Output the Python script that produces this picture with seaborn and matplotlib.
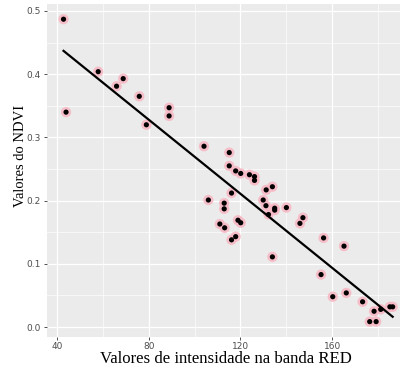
import numpy as np
import pandas as pd
import matplotlib
matplotlib.use("Agg")
from matplotlib import pyplot as plt
from matplotlib.ticker import MultipleLocator
import seaborn as sns

# valores
red = [42.9, 44.0, 58.0, 66.0, 68.9, 75.9, 79.0, 88.9, 88.9, 104.1,
       115.1, 115.1, 117.9, 120.1, 123.9, 126.1, 126.1, 133.9, 131.2, 116.1,
       106.0, 112.9, 112.9, 129.9, 131.1, 134.9, 134.9, 132.2, 140.0, 147.2,
       145.9, 118.9, 120.1, 111.0, 113.1, 117.9, 116.1, 133.9, 156.2, 165.1,
       155.1, 160.2, 166.1, 173.2, 178.2, 181.1, 185.1, 186.3, 176.3, 179.1]
ndvi = [0.487, 0.340, 0.404, 0.381, 0.393, 0.365, 0.320, 0.347, 0.334, 0.286,
        0.276, 0.255, 0.247, 0.243, 0.241, 0.238, 0.232, 0.222, 0.217, 0.212,
        0.201, 0.196, 0.187, 0.201, 0.192, 0.188, 0.185, 0.178, 0.189, 0.173,
        0.164, 0.169, 0.165, 0.163, 0.157, 0.143, 0.138, 0.111, 0.141, 0.128,
        0.083, 0.048, 0.054, 0.040, 0.025, 0.028, 0.032, 0.032, 0.0086, 0.0086]

df = pd.DataFrame({"red": red, "ndvi": ndvi})

fig = plt.figure(figsize=(4.0, 3.67), dpi=100)
ax = fig.add_axes([0.1175, 0.083, 0.8825, 0.906])
ax.set_facecolor("#EBEBEB")

# halo rosa + ponto preto
sns.scatterplot(data=df, x="red", y="ndvi", ax=ax, s=55, color="#F7B8C4",
                edgecolor="none", alpha=0.9, zorder=3)
sns.scatterplot(data=df, x="red", y="ndvi", ax=ax, s=14, color="black",
                edgecolor="none", zorder=4)
sns.regplot(data=df, x="red", y="ndvi", ax=ax, scatter=False, ci=None,
            color="black", line_kws={"lw": 1.6, "zorder": 5})

ax.set_xlim(35.7, 189.5)
ax.set_ylim(-0.015, 0.511)
ax.xaxis.set_major_locator(MultipleLocator(40))
ax.xaxis.set_minor_locator(MultipleLocator(20))
ax.yaxis.set_major_locator(MultipleLocator(0.1))
ax.yaxis.set_minor_locator(MultipleLocator(0.05))
ax.set_yticklabels([f"{v:.1f}" for v in ax.get_yticks()])
ax.grid(which="major", color="white", lw=0.9, zorder=0)
ax.grid(which="minor", color="white", lw=0.45, zorder=0)
ax.set_axisbelow(True)
for s in ax.spines.values():
    s.set_visible(False)
ax.tick_params(which="major", length=2.5, width=0.6, color="#333333",
               labelsize=6.5, labelcolor="#4D4D4D", pad=2)
ax.tick_params(axis="x", pad=1.5)
ax.tick_params(which="minor", length=0)

ax.set_xlabel("Valores de intensidade na banda RED", fontsize=12.1,
              family="Liberation Serif", va="baseline")
ax.xaxis.set_label_coords(0.508, -0.0797)
ax.set_ylabel("Valores do NDVI", fontsize=10.5, family="Liberation Serif",
              va="center")
ax.yaxis.set_label_coords(-0.0737, 0.544)

plt.savefig("out.png", dpi=100)
